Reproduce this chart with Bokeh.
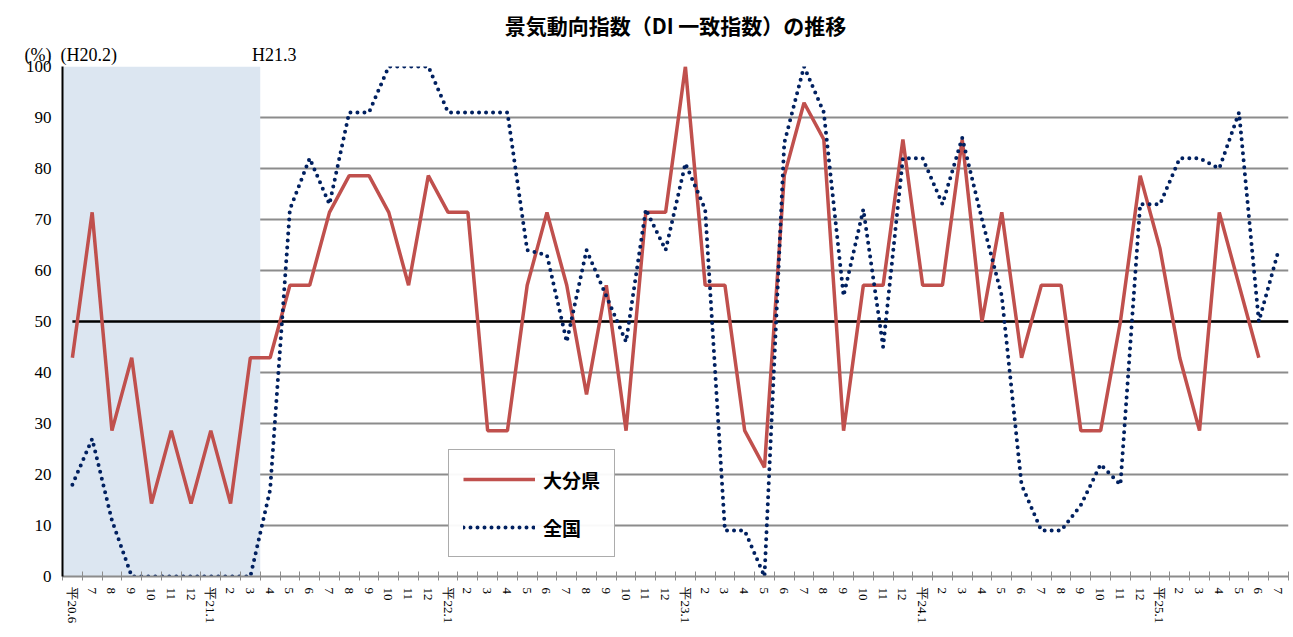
from bokeh.plotting import figure
from bokeh.models import FixedTicker, Legend, LegendItem, Title
from bokeh.embed import file_html
from bokeh.resources import INLINE

months = ["平20.6", "7", "8", "9", "10", "11", "12",
          "平21.1", "2", "3", "4", "5", "6", "7", "8", "9", "10", "11", "12",
          "平22.1", "2", "3", "4", "5", "6", "7", "8", "9", "10", "11", "12",
          "平23.1", "2", "3", "4", "5", "6", "7", "8", "9", "10", "11", "12",
          "平24.1", "2", "3", "4", "5", "6", "7", "8", "9", "10", "11", "12",
          "平25.1", "2", "3", "4", "5", "6", "7"]

oita = [42.9, 71.4, 28.6, 42.9, 14.3, 28.6, 14.3,
        28.6, 14.3, 42.9, 42.9, 57.1, 57.1, 71.4, 78.6, 78.6, 71.4, 57.1, 78.6,
        71.4, 71.4, 28.6, 28.6, 57.1, 71.4, 57.1, 35.7, 57.1, 28.6, 71.4, 71.4,
        100, 57.1, 57.1, 28.6, 21.4, 78.6, 92.9, 85.7, 28.6, 57.1, 57.1, 85.7,
        57.1, 57.1, 85.7, 50, 71.4, 42.9, 57.1, 57.1, 28.6, 28.6, 50, 78.6,
        64.3, 42.9, 28.6, 71.4, 57.1, 42.9]

zenkoku = [18, 27, 11, 0, 0, 0, 0,
           0, 0, 0, 17, 72, 82, 73, 91, 91, 100, 100, 100,
           91, 91, 91, 91, 64, 63, 46, 64, 55, 46, 72, 64,
           81, 72, 9, 9, 0, 85, 100, 91, 55, 72, 45, 82,
           82, 73, 86, 70, 55, 18, 9, 9, 14, 22, 18, 73,
           73, 82, 82, 80, 91, 50, 64]

SERIF = "Liberation Serif"
CJK = "Noto Sans CJK JP"

xs = list(range(len(months)))
shade_end = months.index("3")  # H21.3

p = figure(width=1290, height=636, x_range=(-0.5, len(months) - 0.5), y_range=(0, 100),
           output_backend="svg", toolbar_location=None,
           min_border_left=62, min_border_right=2, min_border_top=66, min_border_bottom=60)
p.outline_line_color = None

# annotation texts above the plot (stacked titles)
sub = Title(text="(%)\u00a0\u00a0(H20.2)" + "\u00a0" * 30 + "H21.3", align="left", offset=-38,
            text_font=SERIF, text_font_size="18px", text_font_style="normal",
            text_color="black", standoff=4)
p.add_layout(sub, "above")
main = Title(text="景気動向指数（DI 一致指数）の推移", align="center",
             text_font=CJK, text_font_size="21px", text_font_style="bold",
             text_color="black", standoff=2)
p.add_layout(main, "above")

# shaded period
p.quad(left=-0.5, right=shade_end + 0.5, bottom=0, top=100,
       fill_color="#dce6f1", line_color=None)

p.xgrid.grid_line_color = None
p.ygrid.grid_line_color = "#8c8c8c"
p.ygrid.grid_line_width = 2
p.ygrid.ticker = FixedTicker(ticks=list(range(0, 101, 10)))

p.yaxis.ticker = FixedTicker(ticks=list(range(0, 101, 10)))
p.yaxis.major_tick_line_color = None
p.yaxis.minor_tick_line_color = None
p.yaxis.axis_line_color = "black"
p.yaxis.axis_line_width = 2
p.yaxis.major_label_text_font = SERIF
p.yaxis.major_label_text_font_size = "17px"
p.yaxis.major_label_text_color = "black"

p.xaxis.ticker = FixedTicker(ticks=xs, minor_ticks=[x - 0.5 for x in xs] + [len(xs) - 0.5])
p.xaxis.major_label_overrides = {i: m for i, m in enumerate(months)}
p.xaxis.major_label_orientation = "vertical"
p.xaxis.major_label_text_font = SERIF
p.xaxis.major_label_text_font_size = "13px"
p.xaxis.major_label_text_color = "black"
p.xaxis.major_tick_line_color = None
p.xaxis.minor_tick_line_color = "#8c8c8c"
p.xaxis.minor_tick_in = 5
p.xaxis.minor_tick_out = 4
p.xaxis.axis_line_color = "#8c8c8c"
p.xaxis.axis_line_width = 2

p.line([0, len(xs) - 0.5], [50, 50], line_color="black", line_width=2.5)

r1 = p.line(xs[:len(oita)], oita, line_color="#c0504d", line_width=3.5)
r2 = p.line(xs, zenkoku, line_color="#002060", line_width=4,
            line_dash="0 7", line_cap="round")

legend = Legend(items=[LegendItem(label="大分県", renderers=[r1]),
                       LegendItem(label="全国", renderers=[r2])],
                location=(386, 19), label_text_font=CJK, label_text_font_size="19px",
                label_text_font_style="bold", label_text_color="black",
                glyph_width=72, glyph_height=30, spacing=18, padding=14,
                border_line_color="#595959", border_line_width=1, label_standoff=8)
p.add_layout(legend, "center")

open("out.html", "w").write(file_html(p, INLINE))
